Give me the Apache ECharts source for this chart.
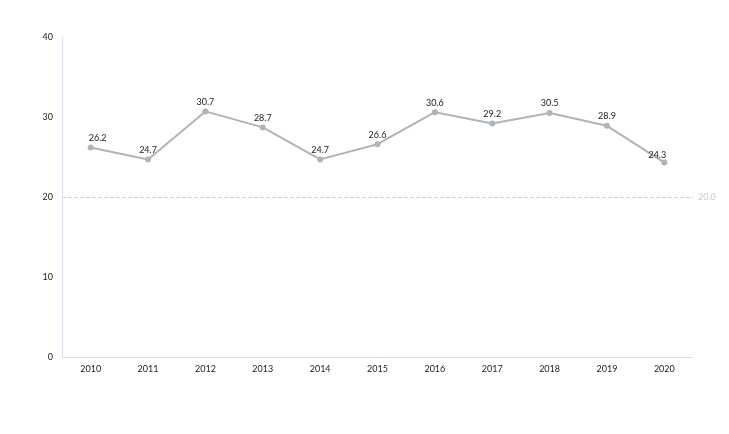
<!DOCTYPE html>
<html>
<head>
    <meta charset="utf-8">
    <title>ECharts</title>
    <script src="https://cdn.jsdelivr.net/npm/echarts@6/dist/echarts.min.js"></script>
    <style>
        html, body { width: 100%; height: 100%; margin: 0; background: #fff; }
        #main { width: 729px; height: 434px; }
    </style>
</head>
<body>
    <div id="main"></div>
    <script type="text/javascript">
        var years = ['2010', '2011', '2012', '2013', '2014', '2015', '2016', '2017', '2018', '2019', '2020'];
        var values = [26.2, 24.7, 30.7, 28.7, 24.7, 26.6, 30.6, 29.2, 30.5, 28.9, 24.3];
        var refValue = [20.0];

        // end labels sit nudged inward in the original
        var seriesData = values.map(function (v, i) {
            if (i === 0) return { value: v, label: { offset: [7, 0] } };
            if (i === values.length - 1) return { value: v, label: { offset: [-7, 2] } };
            return v;
        });

        var myChart = echarts.init(document.getElementById('main'));
        var option = {
            animation: false,
            textStyle: { fontFamily: 'Lato' },
            grid: { left: 62, right: 36, top: 37, bottom: 77 },
            xAxis: {
                type: 'category',
                data: years,
                axisLine: { lineStyle: { color: '#d6e0ec' } },
                axisTick: { show: false },
                axisLabel: { color: '#222', fontSize: 9, margin: 8 }
            },
            yAxis: {
                type: 'value',
                min: 0,
                max: 40,
                interval: 10,
                axisLine: { show: true, lineStyle: { color: '#d6e0ec' } },
                axisTick: { show: false },
                splitLine: { show: false },
                axisLabel: { color: '#222', fontSize: 9, margin: 9 }
            },
            series: [{
                type: 'line',
                data: seriesData,
                symbol: 'circle',
                symbolSize: 6,
                lineStyle: { color: '#afb4b8', width: 2 },
                itemStyle: { color: '#afb4b8' },
                label: {
                    show: true,
                    position: 'top',
                    color: '#222',
                    fontSize: 9,
                    distance: 2
                },
                markLine: {
                    silent: true,
                    symbol: 'none',
                    lineStyle: { color: '#d0d4dc', type: 'dashed', width: 1 },
                    label: { color: '#c8c8c8', fontSize: 9, formatter: function (p) { return p.value.toFixed(1); } },
                    data: refValue.map(function (v) { return { yAxis: v }; })
                }
            }]
        };
        myChart.setOption(option);
    </script>
</body>
</html>
